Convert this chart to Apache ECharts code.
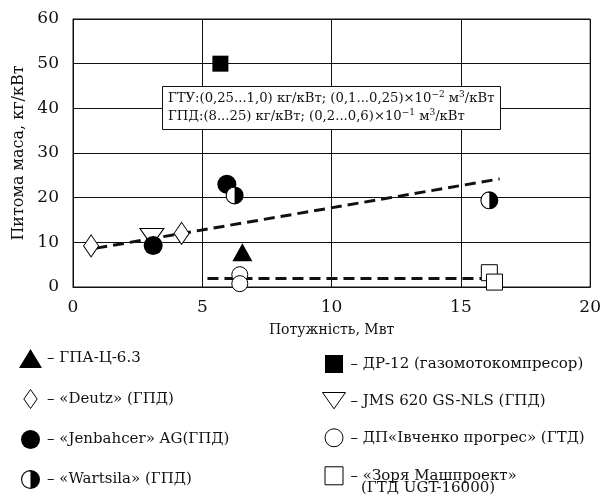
<!DOCTYPE html>
<html>
<head>
<meta charset="utf-8">
<script src="https://cdn.jsdelivr.net/npm/echarts@6/dist/echarts.min.js"></script>
<style>
	html, body { margin: 0; padding: 0; background: #fff; }
	#chart { width: 604px; height: 499px; }
</style>
</head>
<body>
<div id="chart"></div>
<script>
// values: [power MW, specific mass kg/kW]
const gpaC63 = [[6.55, 7.8]]
const dr12 = [[5.7, 50]]
const deutz = [[0.7, 9.2], [4.2, 12]]
const jms620 = [[3.05, 11.2]]
const jenbacher = [[3.1, 9.3], [5.95, 23.0]]
const ivchenko = [[6.45, 2.75], [6.45, 0.75]]
const wartsila = [[6.25, 20.5], [16.1, 19.4]]
const zorya = [[16.1, 3.2], [16.3, 1.1]]
const trendGpd = [[0.9, 8.7], [16.5, 24.2]]
const trendGtu = [[5.2, 1.9], [15.8, 1.9]]

const xTicks = [0, 5, 10, 15, 20]
const yTicks = [0, 10, 20, 30, 40, 50, 60]

const names = {
	gpa: 'ГПА-Ц-6.3',
	deutz: '«Deutz» (ГПД)',
	jen: '«Jenbahcer» AG(ГПД)',
	wart: '«Wartsila» (ГПД)',
	dr: 'ДР-12 (газомотокомпресор)',
	jms: 'JMS 620 GS-NLS (ГПД)',
	ivch: 'ДП«Івченко прогрес» (ГТД)',
	zorya: '«Зоря Машпроект» (ГТД UGT-16000)'
}

const serif = "'DejaVu Serif', 'Liberation Serif', serif"
const diamondPath = 'path://M7,0 L14,10 L7,20 L0,10 Z'
const downTriPath = 'path://M0,0 L24,0 L12,17 Z'
const squarePath = 'path://M0,0 L10,0 L10,10 L0,10 Z'
const halfPath = 'path://M10,0 A10,10 0 0,1 10,20 Z M10,0 A10,10 0 0,0 10,20 L10,18.8 A8.8,8.8 0 0,1 10,1.2 Z'

const black = '#000'
const filled = { color: black, opacity: 1 }
const hollow = { color: '#fff', borderColor: black, borderWidth: 1, opacity: 1 }

const chart = echarts.init(document.getElementById('chart'))

function scatter(name, data, symbol, size, style, z) {
	return {
		name: name,
		type: 'scatter',
		data: data,
		symbol: symbol,
		symbolSize: size,
		itemStyle: style,
		z: z || 3,
		emphasis: { disabled: true }
	}
}

function trend(data) {
	return {
		type: 'line',
		data: data,
		symbol: 'none',
		lineStyle: { color: '#111', width: 3, type: [11, 6] },
		z: 2,
		silent: true
	}
}

const option = {
	animation: false,
	backgroundColor: '#fff',
	textStyle: { fontFamily: serif, color: '#111' },
	grid: {
		left: 73,
		right: 5,
		top: 19,
		bottom: 212,
		show: true,
		borderColor: '#111',
		borderWidth: 1
	},
	title: {
		left: 162,
		top: 86,
		padding: [4, 6, 4, 6],
		backgroundColor: '#fff',
		borderColor: '#111',
		borderWidth: 1,
		text: 'ГТУ:(0,25...1,0) кг/кВт; (0,1...0,25)×10{s|−2} м{s|3}/кВт\nГПД:(8...25) кг/кВт; (0,2...0,6)×10{s|−1} м{s|3}/кВт',
		textStyle: {
			fontFamily: serif,
			fontSize: 13.2,
			fontWeight: 'normal',
			color: '#111',
			lineHeight: 18,
			rich: {
				s: { fontFamily: serif, fontSize: 9, verticalAlign: 'top', lineHeight: 18, color: '#111' }
			}
		}
	},
	xAxis: {
		type: 'value',
		min: 0,
		max: 20,
		interval: 5,
		name: 'Потужність, Мвт',
		nameLocation: 'middle',
		nameGap: 36,
		nameTextStyle: { fontSize: 14, fontFamily: serif, color: '#111' },
		axisLine: { lineStyle: { color: '#111' } },
		axisTick: { show: false },
		axisLabel: { fontSize: 17, margin: 12, color: '#111', fontFamily: serif },
		splitLine: { show: true, lineStyle: { color: '#111', width: 1 } }
	},
	yAxis: {
		type: 'value',
		min: 0,
		max: 60,
		interval: 10,
		name: 'Питома маса, кг/кВт',
		nameLocation: 'middle',
		nameGap: 45,
		nameTextStyle: { fontSize: 16, fontFamily: serif, color: '#111' },
		axisLine: { show: true, lineStyle: { color: '#111' } },
		axisTick: { show: false },
		axisLabel: { fontSize: 17, margin: 14, color: '#111', fontFamily: serif },
		splitLine: { show: true, lineStyle: { color: '#111', width: 1 } }
	},
	legend: [
		{
			orient: 'vertical',
			left: 14,
			top: 344,
			itemWidth: 23,
			itemHeight: 19,
			itemGap: 21,
			selectedMode: false,
			textStyle: { fontSize: 15, fontFamily: serif, color: '#111' },
			formatter: function (n) { return '– ' + n },
			data: [
				{ name: names.gpa, icon: 'triangle', itemStyle: filled },
				{ name: names.deutz, icon: diamondPath, itemStyle: hollow },
				{ name: names.jen, icon: 'circle', itemStyle: filled },
				{ name: names.wart, icon: halfPath, itemStyle: filled }
			]
		},
		{
			orient: 'vertical',
			left: 317,
			top: 350,
			itemWidth: 23,
			itemHeight: 18,
			itemGap: 19,
			selectedMode: false,
			textStyle: { fontSize: 15, fontFamily: serif, color: '#111' },
			formatter: function (n) {
				if (n === names.zorya) return '– «Зоря Машпроект»'
				return '– ' + n
			},
			data: [
				{ name: names.dr, icon: squarePath, itemStyle: filled },
				{ name: names.jms, icon: downTriPath, itemStyle: hollow },
				{ name: names.ivch, icon: 'circle', itemStyle: hollow },
				{ name: names.zorya, icon: squarePath, itemStyle: hollow }
			]
		}
	],
	graphic: [
		{
			type: 'text',
			left: 361,
			top: 481,
			style: { text: '(ГТД UGT-16000)', font: '15px ' + serif, fill: '#111' }
		}
	],
	series: [
		trend(trendGpd),
		trend(trendGtu),
		scatter(names.gpa, gpaC63, 'triangle', [20, 18], filled),
		scatter(names.dr, dr12, 'rect', 16, filled),
		scatter(names.deutz, deutz, 'diamond', [15, 22], hollow),
		scatter(names.jms, jms620, downTriPath, [24, 17], hollow),
		scatter(names.jen, jenbacher, 'circle', 19, filled),
		scatter(names.ivch, ivchenko, 'circle', 16, hollow),
		scatter(names.wart, wartsila, halfPath, 18, filled, 5),
		scatter('wartsila-bg', wartsila, 'circle', 17, { color: '#fff', opacity: 1 }, 4),
		scatter(names.zorya, zorya, 'rect', 16, hollow)
	]
}

chart.setOption(option)
window.addEventListener('resize', function () {
	chart.resize()
})
</script>
</body>
</html>
